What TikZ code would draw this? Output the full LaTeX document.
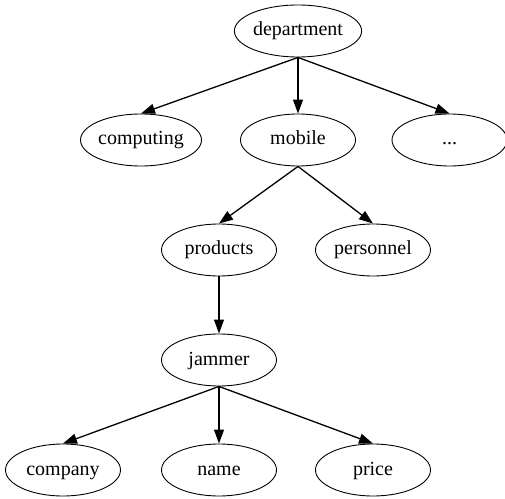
\documentclass[tikz,border=0pt]{standalone}
\usepackage{fontspec}
\setmainfont{Liberation Serif}
\usetikzlibrary{arrows.meta,shapes.geometric}
\begin{document}
\begin{tikzpicture}[x=1pt,y=1pt,
  nd/.style={draw,ellipse,line width=0.9pt,minimum width=115pt,minimum height=52pt,inner sep=0pt,text height=14pt,text depth=4pt,font=\fontsize{20}{24}\selectfont},
  edge/.style={line width=1.3pt,-{Triangle[length=14pt,width=10pt]}}]
\useasboundingbox (0,0) rectangle (505,498);
\node[nd] (dept) at (298,467) {department};
\node[nd] (comp) at (141,358) {computing};
\node[nd] (mob) at (298,358) {mobile};
\node[nd] (dots) at (449.5,358) {...};
\node[nd] (prod) at (219,248) {products};
\node[nd] (pers) at (373,248) {personnel};
\node[nd] (jam) at (219,138) {jammer};
\node[nd] (compy) at (63,28) {company};
\node[nd] (name) at (219,28) {name};
\node[nd] (price) at (373,28) {price};
\draw[edge] (dept.south) -- (comp.north);
\draw[edge] (dept.south) -- (mob.north);
\draw[edge] (dept.south) -- (dots.north);
\draw[edge] (mob.south) -- (prod.north);
\draw[edge] (mob.south) -- (pers.north);
\draw[edge] (prod.south) -- (jam.north);
\draw[edge] (jam.south) -- (compy.north);
\draw[edge] (jam.south) -- (name.north);
\draw[edge] (jam.south) -- (price.north);
\end{tikzpicture}
\end{document}
